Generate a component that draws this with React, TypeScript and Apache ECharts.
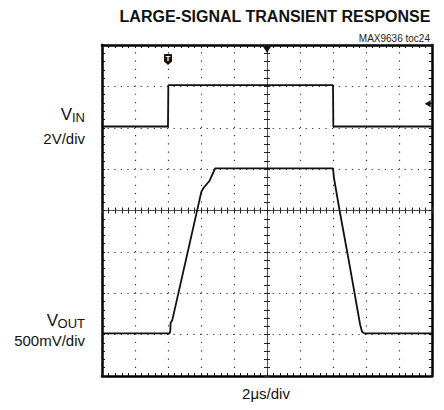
import React, { useEffect, useRef } from "react";
import * as echarts from "echarts";

// Horizontal: 10 divisions (2µs/div), vertical: 8 divisions, centred on 0
const vinX = [-5, -3.0, -2.99, 2.0, 2.01, 5];
const vinY = [2.03, 2.03, 3.03, 3.03, 2.03, 2.03];
const voutX = [-5, -2.95, -2.93, -2.92, -2.87, -1.99, -1.92, -1.74, -1.57, 2.0, 2.03, 2.2, 2.51, 2.82, 2.88, 2.95, 5];
const voutY = [-2.97, -2.97, -2.9, -2.71, -2.65, 0.45, 0.55, 0.72, 1.02, 1.02, 0.78, 0.0, -1.35, -2.75, -2.93, -2.97, -2.97];
const triggerMark = [-3, 3.65];
const centerMark = [0, 3.9];
const levelMark = [4.87, 2.58];

const titleText = "LARGE-SIGNAL TRANSIENT RESPONSE";
const tocText = "MAX9636 toc24";
const xUnit = "2μs/div";
const vinScale = "2V/div";
const voutScale = "500mV/div";

function borderX(position: string) {
  return {
    type: "value", min: -5, max: 5, interval: 1, position, gridIndex: 0,
    axisLine: { show: true, onZero: false, lineStyle: { color: "#000", width: 2.5 } },
    axisTick: { show: true, inside: true, length: 3, lineStyle: { color: "#111", width: 1 } },
    minorTick: { show: true, splitNumber: 5, length: 3, lineStyle: { color: "#111", width: 1 } },
    axisLabel: { show: false }, splitLine: { show: false },
  };
}
function borderY(position: string) {
  return {
    type: "value", min: -4, max: 4, interval: 1, position, gridIndex: 0,
    axisLine: { show: true, onZero: false, lineStyle: { color: "#000", width: 2.5 } },
    axisTick: { show: true, inside: true, length: 3, lineStyle: { color: "#111", width: 1 } },
    minorTick: { show: true, splitNumber: 5, length: 3, lineStyle: { color: "#111", width: 1 } },
    axisLabel: { show: false }, splitLine: { show: false },
  };
}
function centerX(inside: boolean) {
  return {
    type: "value", min: -5, max: 5, interval: 1, position: "bottom", gridIndex: 0,
    axisLine: { show: true, onZero: true, onZeroAxisIndex: 0, lineStyle: { color: "#555", width: 1 } },
    axisTick: { show: true, inside, length: 3, lineStyle: { color: "#222", width: 1 } },
    minorTick: { show: true, splitNumber: 5, length: 3, lineStyle: { color: "#222", width: 1 } },
    axisLabel: { show: false }, splitLine: { show: false },
  };
}
function centerY(inside: boolean) {
  return {
    type: "value", min: -4, max: 4, interval: 1, position: "left", gridIndex: 0,
    axisLine: { show: true, onZero: true, onZeroAxisIndex: 0, lineStyle: { color: "#555", width: 1 } },
    axisTick: { show: true, inside, length: 3, lineStyle: { color: "#222", width: 1 } },
    minorTick: { show: true, splitNumber: 5, length: 3, lineStyle: { color: "#222", width: 1 } },
    axisLabel: { show: false }, splitLine: { show: false },
  };
}

export default function App() {
  const ref = useRef<HTMLDivElement>(null);
  useEffect(() => {
    document.body.style.margin = "0";
    const chart = echarts.init(ref.current!, null, { renderer: "svg" });
    const font = "Liberation Sans, Arial, sans-serif";
    const x0 = {
      ...borderX("bottom"),
      splitLine: { show: true, lineStyle: { color: "#333", width: 1.2, type: [1.2, 7.075], dashOffset: 0.6 } },
    };
    const y0 = {
      ...borderY("left"),
      splitLine: { show: true, lineStyle: { color: "#333", width: 1.2, type: [1.2, 5.4], dashOffset: 0.6 } },
    };
    chart.setOption({
      animation: false,
      grid: { left: 102, top: 45, width: 330, height: 331, show: false },
      xAxis: [x0, borderX("top"), centerX(true), centerX(false)],
      yAxis: [y0, borderY("right"), centerY(true), centerY(false)],
      series: [
        {
          type: "line", xAxisIndex: 0, yAxisIndex: 0, showSymbol: false, z: 5,
          data: vinX.map((x, i) => [x, vinY[i]]),
          lineStyle: { color: "#111", width: 1.8 },
          markPoint: {
            silent: true,
            data: [
              {
                coord: triggerMark, symbol: "path://M1,0 L9,0 Q10,0 10,1 L10,9 L5,13 L0,9 L0,1 Q0,0 1,0 Z",
                symbolSize: [8, 11], itemStyle: { color: "#111" },
                label: { show: true, formatter: "T", color: "#fff", fontSize: 8, fontWeight: "bold", fontFamily: font, offset: [0, -1] },
              },
              {
                coord: centerMark, symbol: "triangle", symbolRotate: 180, symbolSize: [9, 7],
                itemStyle: { color: "#111" }, label: { show: false },
              },
              {
                coord: levelMark, symbol: "triangle", symbolRotate: 90, symbolSize: [7, 6],
                itemStyle: { color: "#111" }, label: { show: false },
              },
            ],
          },
        },
        {
          type: "line", xAxisIndex: 0, yAxisIndex: 0, showSymbol: false, z: 5,
          data: voutX.map((x, i) => [x, voutY[i]]),
          lineStyle: { color: "#111", width: 1.8 },
        },
      ],
      graphic: [
        { type: "text", x: 275, y: 16, style: { text: titleText, font: `bold 16px ${font}`, fill: "#111", align: "center", verticalAlign: "middle" } },
        { type: "text", x: 430, y: 38, style: { text: tocText, font: `10px ${font}`, fill: "#222", align: "right", verticalAlign: "middle" } },
        { type: "text", x: 266, y: 393, style: { text: xUnit, font: `15px ${font}`, fill: "#111", align: "center", verticalAlign: "middle" } },
        { type: "text", x: 72, y: 114, style: { text: "V", font: `17px ${font}`, fill: "#111", align: "right", verticalAlign: "middle" } },
        { type: "text", x: 85, y: 117.5, style: { text: "IN", font: `13px ${font}`, fill: "#111", align: "right", verticalAlign: "middle" } },
        { type: "text", x: 85, y: 138.5, style: { text: vinScale, font: `15px ${font}`, fill: "#111", align: "right", verticalAlign: "middle" } },
        { type: "text", x: 58, y: 320, style: { text: "V", font: `17px ${font}`, fill: "#111", align: "right", verticalAlign: "middle" } },
        { type: "text", x: 85, y: 323.5, style: { text: "OUT", font: `13px ${font}`, fill: "#111", align: "right", verticalAlign: "middle" } },
        { type: "text", x: 85, y: 340.5, style: { text: voutScale, font: `15px ${font}`, fill: "#111", align: "right", verticalAlign: "middle" } },
      ],
    });
    return () => chart.dispose();
  }, []);
  return <div ref={ref} style={{ width: 444, height: 410 }} />;
}
